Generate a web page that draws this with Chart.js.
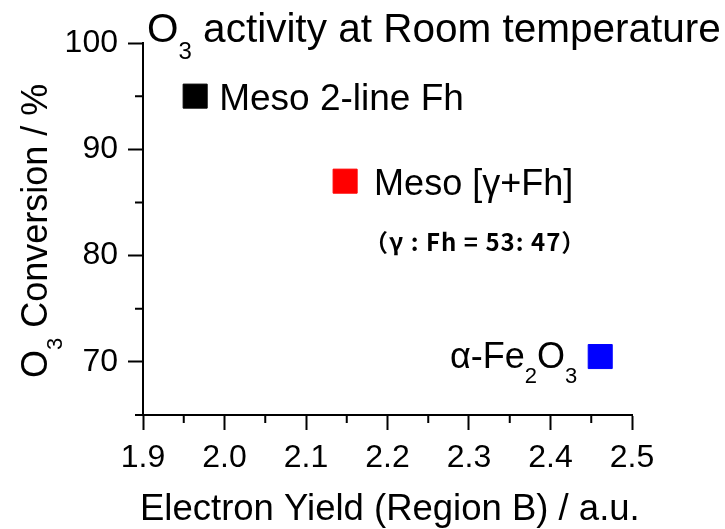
<!DOCTYPE html>
<html>
<head>
<meta charset="utf-8">
<script src="https://cdn.jsdelivr.net/npm/chart.js@4.4.0/dist/chart.umd.min.js"></script>
<style>
  body { margin: 0; background: #fff; }
  canvas { display: block; }
</style>
</head>
<body>
<canvas id="chart" width="725" height="529"></canvas>
<script>
// values
var samples = ['Meso 2-line Fh', 'Meso [γ+Fh]', 'α-Fe2O3'];
var electronYield = [1.964, 2.148, 2.461];
var o3Conversion = [95.0, 87.0, 70.5];
var pointColors = ['#000000', '#ff0000', '#0000ff'];

var xTicks = [1.9, 2.0, 2.1, 2.2, 2.3, 2.4, 2.5];
var xTickLabels = ['1.9', '2.0', '2.1', '2.2', '2.3', '2.4', '2.5'];
var xMinor = [1.95, 2.05, 2.15, 2.25, 2.35, 2.45];
var yTicks = [70, 80, 90, 100];
var yTickLabels = ['70', '80', '90', '100'];
var yMinor = [65, 75, 85, 95];

var FONT = '"Liberation Sans", Arial, sans-serif';

// draw text made of [string, 'sub' | ''] parts
function richWidth(ctx, parts, size) {
  var w = 0;
  parts.forEach(function(p) {
    ctx.font = (p[1] == 'sub' ? Math.round(size * 0.6) : size) + 'px ' + FONT;
    w += ctx.measureText(p[0]).width;
  });
  return w;
}
function drawRich(ctx, x, y, parts, size) {
  parts.forEach(function(p) {
    var sub = p[1] == 'sub';
    ctx.font = (sub ? Math.round(size * 0.6) : size) + 'px ' + FONT;
    ctx.fillText(p[0], x, sub ? y + size * 0.42 : y);
    x += ctx.measureText(p[0]).width;
  });
}

var textPlugin = {
  id: 'texts',
  afterDraw: function(chart) {
    var ctx = chart.ctx;
    var xs = chart.scales.x, ys = chart.scales.y;
    var area = chart.chartArea;
    ctx.save();

    // minor ticks
    ctx.strokeStyle = '#000';
    ctx.lineWidth = 2;
    ctx.beginPath();
    yMinor.forEach(function(v) {
      var py = ys.getPixelForValue(v);
      ctx.moveTo(area.left - 8, py);
      ctx.lineTo(area.left, py);
    });
    xMinor.forEach(function(v) {
      var px = xs.getPixelForValue(v);
      ctx.moveTo(px, area.bottom);
      ctx.lineTo(px, area.bottom + 8);
    });
    ctx.stroke();

    ctx.fillStyle = '#000';
    ctx.textBaseline = 'alphabetic';
    ctx.textAlign = 'left';

    // title
    drawRich(ctx, 147, 42, [['O', ''], ['3', 'sub'], [' activity at Room temperature', '']], 40.5);

    // x axis title
    drawRich(ctx, 140, 520, [['Electron Yield (Region B) / a.u.', '']], 36.5);

    // y axis title
    ctx.save();
    ctx.translate(47, 378);
    ctx.rotate(-Math.PI / 2);
    drawRich(ctx, 0, 0, [['O', ''], ['3', 'sub'], [' Conversion / %', '']], 36);
    ctx.restore();

    // labels next to the points
    var p0x = xs.getPixelForValue(electronYield[0]), p0y = ys.getPixelForValue(o3Conversion[0]);
    var p1x = xs.getPixelForValue(electronYield[1]), p1y = ys.getPixelForValue(o3Conversion[1]);
    var p2x = xs.getPixelForValue(electronYield[2]), p2y = ys.getPixelForValue(o3Conversion[2]);

    drawRich(ctx, p0x + 24, p0y + 14, [[samples[0], '']], 37);
    drawRich(ctx, p1x + 29, p1y + 14, [[samples[1], '']], 36);

    ctx.font = 'bold 24px "Noto Sans CJK JP", sans-serif';
    ctx.letterSpacing = '1px';
    ctx.fillText('（γ : Fh = 53: 47）', p1x + 19, p1y + 70);
    ctx.letterSpacing = '0px';

    var fe = [['α-Fe', ''], ['2', 'sub'], ['O', ''], ['3', 'sub']];
    var w = richWidth(ctx, fe, 36);
    drawRich(ctx, p2x - 23 - w, p2y + 11, fe, 36);

    ctx.restore();
  }
};

new Chart(document.getElementById('chart'), {
  type: 'scatter',
  data: {
    datasets: [{
      data: electronYield.map(function(x, i) { return { x: x, y: o3Conversion[i] }; }),
      pointStyle: 'rect',
      pointRadius: 17,
      pointHoverRadius: 17,
      borderWidth: 1,
      backgroundColor: pointColors,
      borderColor: pointColors
    }]
  },
  options: {
    responsive: false,
    animation: false,
    layout: { padding: { top: 43, right: 93, left: 0, bottom: 0 } },
    plugins: {
      legend: { display: false },
      tooltip: { enabled: false }
    },
    scales: {
      x: {
        type: 'linear',
        min: 1.9,
        max: 2.5,
        afterBuildTicks: function(s) { s.ticks = xTicks.map(function(v) { return { value: v }; }); },
        afterFit: function(s) { s.height = 114; },
        grid: { drawOnChartArea: false, tickLength: 15, tickWidth: 2, tickColor: '#000' },
        border: { color: '#000', width: 2 },
        ticks: {
          color: '#000',
          padding: 9,
          maxRotation: 0,
          font: { family: FONT, size: 32 },
          callback: function(v) { return xTickLabels[xTicks.indexOf(v)]; }
        }
      },
      y: {
        min: 65,
        max: 100,
        afterBuildTicks: function(s) { s.ticks = yTicks.map(function(v) { return { value: v }; }); },
        afterFit: function(s) { s.width = 143; },
        grid: { drawOnChartArea: false, tickLength: 15, tickWidth: 2, tickColor: '#000' },
        border: { color: '#000', width: 2 },
        ticks: {
          color: '#000',
          padding: 10,
          font: { family: FONT, size: 32 },
          callback: function(v) { return yTickLabels[yTicks.indexOf(v)]; }
        }
      }
    }
  },
  plugins: [textPlugin]
});
</script>
</body>
</html>
